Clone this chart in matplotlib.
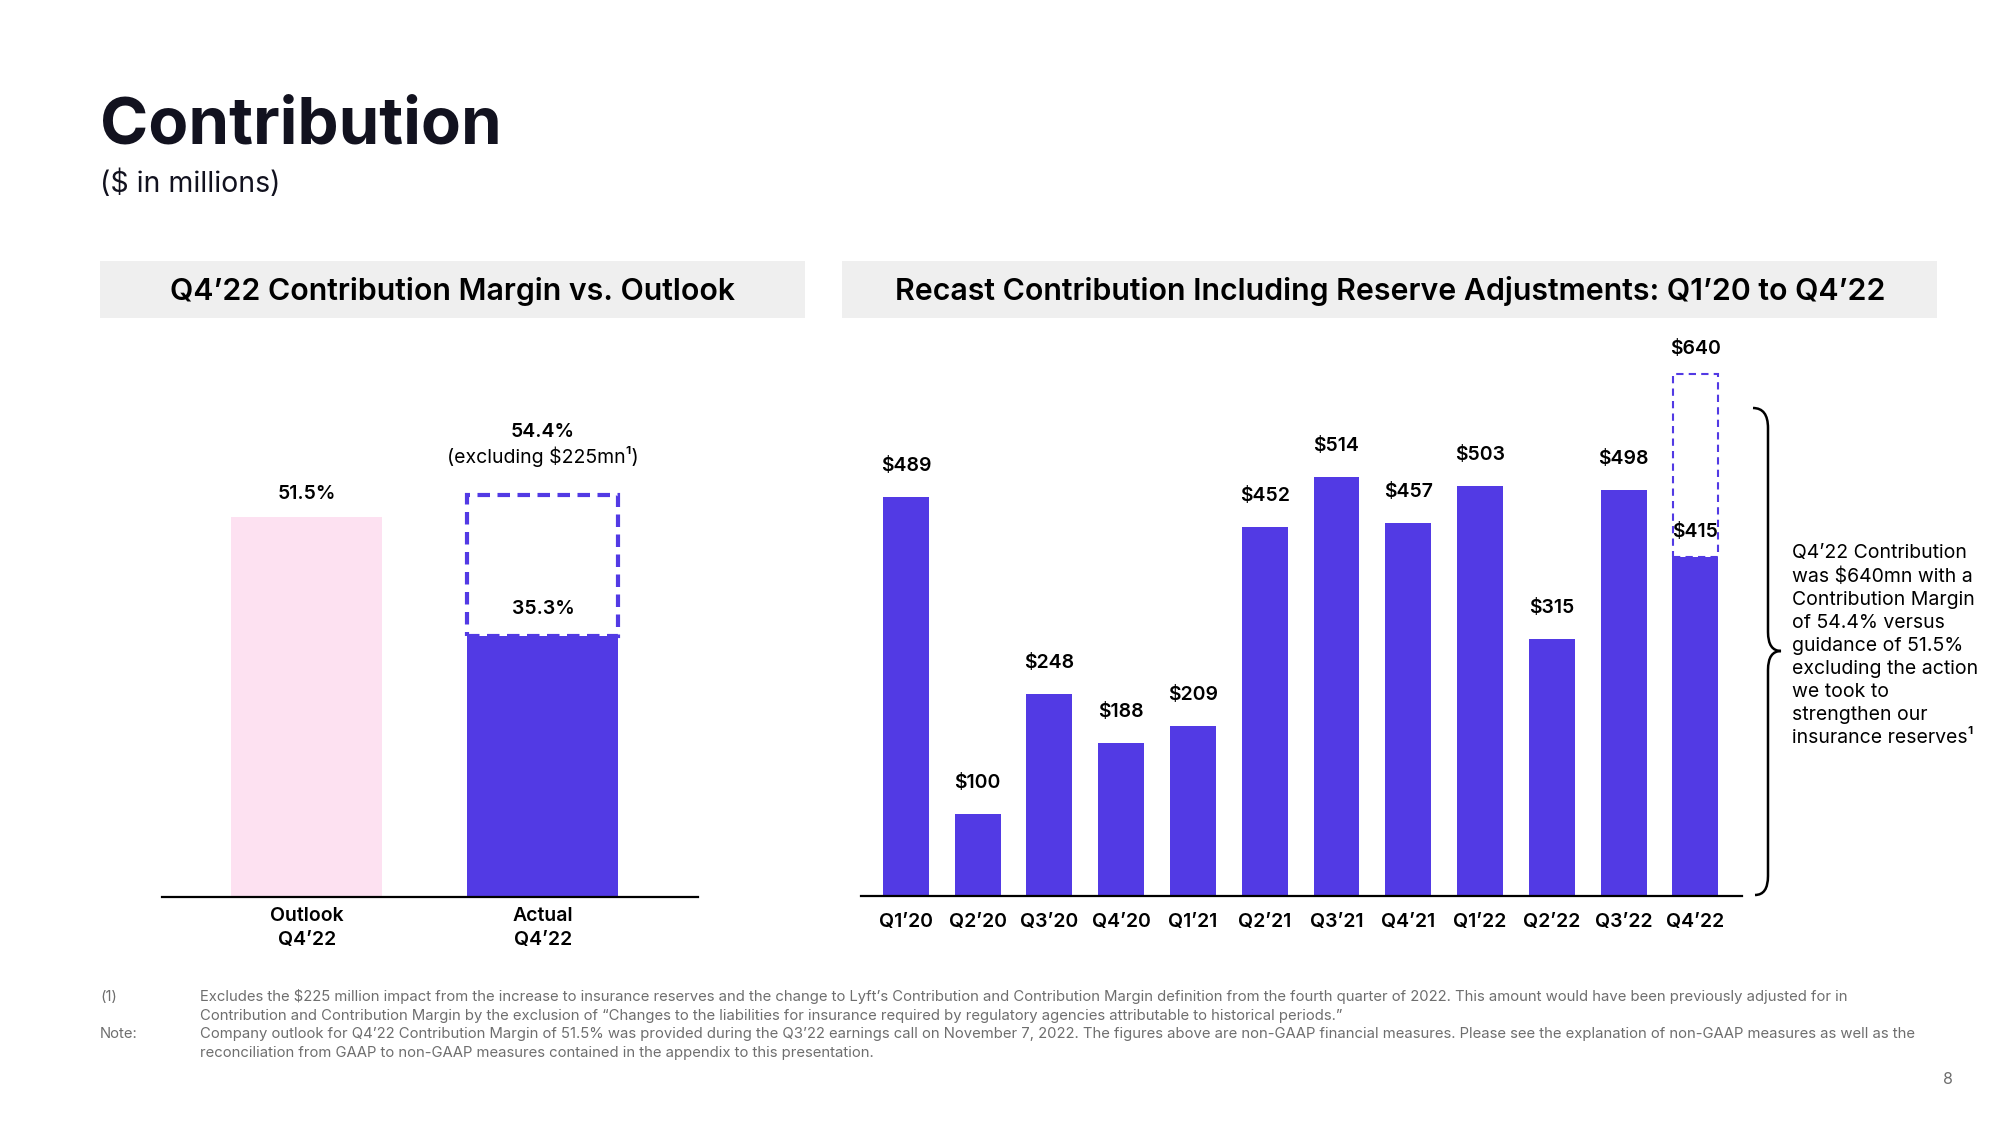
import numpy as np
import matplotlib
matplotlib.use("Agg")
from matplotlib import pyplot as plt
from matplotlib.patches import Rectangle, PathPatch
from matplotlib.path import Path

plt.rcParams['font.family'] = ['Inter', 'DejaVu Sans']
plt.rcParams['text.parse_math'] = False

# data
margin_cats = ["Outlook\nQ4’22", "Actual\nQ4’22"]
margin_vals = [51.5, 35.3]
margin_excl = 54.4

quarters = ["Q1’20", "Q2’20", "Q3’20", "Q4’20", "Q1’21", "Q2’21",
            "Q3’21", "Q4’21", "Q1’22", "Q2’22", "Q3’22", "Q4’22"]
contribution = [489, 100, 248, 188, 209, 452, 514, 457, 503, 315, 498, 415]
contribution_excl = 640

PURPLE = "#523AE4"
PINK = "#FDE1F1"
DARK = "#12121F"
GREY_BOX = "#EFEFEF"
NOTE = "#6E6E6E"

W, H = 2000, 1125
fig = plt.figure(figsize=(20, 11.25), dpi=100)

# overlay axes in pixel coords (y down) for slide text and decorations
ov = fig.add_axes([0, 0, 1, 1])
ov.set_xlim(0, W)
ov.set_ylim(H, 0)
ov.axis("off")


def frac(x0, y_top, x1, y_bot):
    return [x0 / W, 1 - y_bot / H, (x1 - x0) / W, (y_bot - y_top) / H]


ov.text(100, 127, "Contribution", fontsize=47, fontweight="bold", color=DARK, va="center")
ov.text(100, 184, "($ in millions)", fontsize=20.5, color=DARK, va="center")

ov.add_patch(Rectangle((100, 261), 705, 57, color=GREY_BOX, lw=0))
ov.add_patch(Rectangle((842, 261), 1095, 57, color=GREY_BOX, lw=0))
ov.text(452, 292, "Q4’22 Contribution Margin vs. Outlook", fontsize=21.8,
        fontweight="semibold", color="black", ha="center", va="center")
ov.text(1390, 291, "Recast Contribution Including Reserve Adjustments: Q1’20 to Q4’22",
        fontsize=21.8, fontweight="semibold", color="black", ha="center", va="center")

# ---- left chart
ax1 = fig.add_axes(frac(162, 417, 698, 897))
x1 = np.arange(len(margin_cats))
ax1.bar(x1, margin_vals, width=0.64, color=[PINK, PURPLE])
ax1.bar(x1[1], margin_excl - margin_vals[1], bottom=margin_vals[1], width=0.64,
        fill=False, edgecolor=PURPLE, lw=3, linestyle=(0, (3, 1.8)))
ax1.set_xlim(-0.614, 1.657)
ax1.set_ylim(0, 65)
for s in ["top", "right", "left"]:
    ax1.spines[s].set_visible(False)
ax1.spines["bottom"].set_linewidth(1.6)
ax1.set_yticks([])
ax1.set_xticks(x1)
ax1.set_xticklabels(margin_cats, fontsize=14, fontweight="semibold", linespacing=1.45)
ax1.tick_params(axis="x", length=0, pad=7)

ax1.annotate(f"{margin_vals[0]}%", (x1[0], margin_vals[0]), xytext=(0, 23),
             textcoords="offset pixels", ha="center", va="center", fontsize=14,
             fontweight="semibold", annotation_clip=False)
ax1.annotate(f"{margin_vals[1]}%", (x1[1], margin_vals[1]), xytext=(0, 27),
             textcoords="offset pixels", ha="center", va="center", fontsize=14,
             fontweight="semibold", annotation_clip=False)
ax1.annotate(f"{margin_excl}%", (x1[1], margin_excl), xytext=(0, 63),
             textcoords="offset pixels", ha="center", va="center", fontsize=14,
             fontweight="semibold", annotation_clip=False)
ax1.annotate("(excluding $225mn¹)", (x1[1], margin_excl), xytext=(0, 39),
             textcoords="offset pixels", ha="center", va="center", fontsize=14,
             annotation_clip=False)

# ---- right chart
ax2 = fig.add_axes(frac(861, 325, 1742, 896))
x2 = np.arange(len(quarters))
ax2.bar(x2, contribution, width=0.64, color=PURPLE)
ax2.bar(x2[-1], contribution_excl - contribution[-1], bottom=contribution[-1], width=0.62,
        fill=False, edgecolor=PURPLE, lw=1.5, linestyle=(0, (3.5, 2.5)))
ax2.set_xlim(-0.625, 11.65)
ax2.set_ylim(0, 700)
for s in ["top", "right", "left"]:
    ax2.spines[s].set_visible(False)
ax2.spines["bottom"].set_linewidth(1.6)
ax2.set_yticks([])
ax2.set_xticks(x2)
ax2.set_xticklabels(quarters, fontsize=14, fontweight="semibold")
ax2.tick_params(axis="x", length=0, pad=12)

for xi, v in zip(x2[:-1], contribution[:-1]):
    ax2.annotate(f"${v}", (xi, v), xytext=(0, 31), textcoords="offset pixels",
                 ha="center", va="center", fontsize=14, fontweight="semibold")
ax2.annotate(f"${contribution[-1]}", (x2[-1], contribution[-1]), xytext=(0, 25),
             textcoords="offset pixels", ha="center", va="center", fontsize=14,
             fontweight="semibold")
ax2.annotate(f"${contribution_excl}", (x2[-1], contribution_excl), xytext=(0, 25),
             textcoords="offset pixels", ha="center", va="center", fontsize=14,
             fontweight="semibold", annotation_clip=False)

# brace
verts = [(1753, 408), (1768, 408), (1768, 428),
         (1768, 632),
         (1768, 651), (1781, 651),
         (1768, 651), (1768, 670),
         (1768, 876),
         (1768, 895), (1755, 895)]
codes = [Path.MOVETO, Path.CURVE3, Path.CURVE3,
         Path.LINETO,
         Path.CURVE3, Path.CURVE3,
         Path.CURVE3, Path.CURVE3,
         Path.LINETO,
         Path.CURVE3, Path.CURVE3]
ov.add_patch(PathPatch(Path(verts, codes), fill=False, lw=1.8, edgecolor="black"))

side_note = ("Q4’22 Contribution\nwas $640mn with a\nContribution Margin\nof 54.4% versus\n"
             "guidance of 51.5%\nexcluding the action\nwe took to\nstrengthen our\n"
             "insurance reserves¹")
ov.text(1792, 544, side_note, fontsize=14, color="black", va="top", ha="left",
        linespacing=1.36)

# footnotes
notes = [
    "Excludes the $225 million impact from the increase to insurance reserves and the change to Lyft’s Contribution and Contribution Margin definition from the fourth quarter of 2022. This amount would have been previously adjusted for in",
    "Contribution and Contribution Margin by the exclusion of “Changes to the liabilities for insurance required by regulatory agencies attributable to historical periods.”",
    "Company outlook for Q4’22 Contribution Margin of 51.5% was provided during the Q3’22 earnings call on November 7, 2022. The figures above are non-GAAP financial measures. Please see the explanation of non-GAAP measures as well as the",
    "reconciliation from GAAP to non-GAAP measures contained in the appendix to this presentation.",
]
note_y = [997, 1016, 1034, 1053]
ov.text(100, note_y[0], "(1)", fontsize=10.7, color=NOTE, va="center")
ov.text(100, note_y[2], "Note:", fontsize=10.7, color=NOTE, va="center")
for yy, line in zip(note_y, notes):
    ov.text(200, yy, line, fontsize=10.7, color=NOTE, va="center")
ov.text(1948, 1080, "8", fontsize=11.5, color=NOTE, va="center", ha="center")

fig.savefig("out.png", dpi=100, facecolor="white")
